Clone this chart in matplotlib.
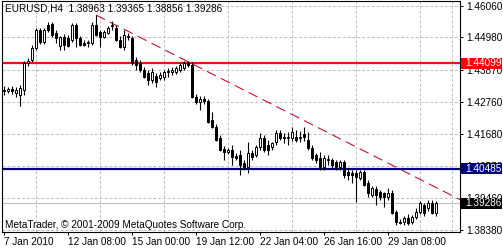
"""
plot.py — EURUSD H4 candlestick chart in MetaTrader style
==========================================================
Candles, a falling trendline from the January high, a resistance and a
support level, plus the coloured price tags on the right axis.

Output:  out.png  (503 x 250 px)
"""

import matplotlib
matplotlib.use("Agg")

import matplotlib.pyplot as plt
import numpy as np
from matplotlib.patches import Rectangle
from matplotlib.ticker import FormatStrFormatter

# ---------------------------------------------------------------------------
# Data (one value per H4 bar)
# ---------------------------------------------------------------------------
SYMBOL = "EURUSD,H4"

opens = [
    1.4318, 1.4315, 1.4321, 1.4308, 1.4301, 1.4318, 1.4410, 1.4421, 1.4462, 1.4524,
    1.4483, 1.4541, 1.4544, 1.4513, 1.4469, 1.4500, 1.4496, 1.4489, 1.4541, 1.4496,
    1.4479, 1.4479, 1.4479, 1.4541, 1.4517, 1.4500, 1.4513, 1.4537, 1.4531, 1.4489,
    1.4465, 1.4500, 1.4496, 1.4421, 1.4410, 1.4386, 1.4376, 1.4352, 1.4366, 1.4359,
    1.4362, 1.4380, 1.4380, 1.4380, 1.4386, 1.4393, 1.4410, 1.4404, 1.4294, 1.4277,
    1.4287, 1.4280, 1.4215, 1.4191, 1.4153, 1.4116, 1.4105, 1.4112, 1.4092, 1.4095,
    1.4068, 1.4054, 1.4102, 1.4095, 1.4122, 1.4153, 1.4129, 1.4122, 1.4140, 1.4171,
    1.4157, 1.4153, 1.4153, 1.4157, 1.4153, 1.4167, 1.4146, 1.4119, 1.4095, 1.4085,
    1.4054, 1.4078, 1.4078, 1.4071, 1.4054, 1.4071, 1.4037, 1.4033, 1.4033, 1.4016,
    1.4037, 1.3999, 1.3958, 1.3979, 1.3968, 1.3965, 1.3951, 1.3965, 1.3899, 1.3865,
    1.3865, 1.3879, 1.3865, 1.3882, 1.3899, 1.3923, 1.3913, 1.3930, 1.38963,
]
highs = [
    1.4332, 1.4328, 1.4332, 1.4328, 1.4335, 1.4417, 1.4428, 1.4472, 1.4531, 1.4531,
    1.4531, 1.4551, 1.4551, 1.4524, 1.4503, 1.4510, 1.4507, 1.4548, 1.4548, 1.4503,
    1.4489, 1.4489, 1.4551, 1.4575, 1.4524, 1.4524, 1.4537, 1.4555, 1.4541, 1.4503,
    1.4524, 1.4513, 1.4503, 1.4431, 1.4421, 1.4397, 1.4386, 1.4393, 1.4376, 1.4380,
    1.4386, 1.4393, 1.4397, 1.4400, 1.4410, 1.4417, 1.4417, 1.4414, 1.4304, 1.4297,
    1.4297, 1.4287, 1.4242, 1.4201, 1.4164, 1.4126, 1.4119, 1.4129, 1.4102, 1.4112,
    1.4078, 1.4140, 1.4112, 1.4129, 1.4171, 1.4164, 1.4146, 1.4140, 1.4181, 1.4181,
    1.4171, 1.4174, 1.4191, 1.4181, 1.4178, 1.4191, 1.4174, 1.4129, 1.4102, 1.4105,
    1.4095, 1.4095, 1.4085, 1.4078, 1.4078, 1.4078, 1.4050, 1.4043, 1.4043, 1.4043,
    1.4043, 1.4009, 1.3989, 1.3989, 1.3975, 1.3968, 1.3982, 1.3975, 1.3906, 1.3875,
    1.3886, 1.3893, 1.3889, 1.3913, 1.3937, 1.3930, 1.3941, 1.3941, 1.39365,
]
lows = [
    1.4301, 1.4308, 1.4304, 1.4294, 1.4263, 1.4301, 1.4400, 1.4414, 1.4455, 1.4476,
    1.4476, 1.4517, 1.4500, 1.4479, 1.4455, 1.4455, 1.4465, 1.4483, 1.4465, 1.4469,
    1.4469, 1.4465, 1.4472, 1.4503, 1.4465, 1.4496, 1.4510, 1.4524, 1.4486, 1.4462,
    1.4455, 1.4489, 1.4404, 1.4386, 1.4380, 1.4359, 1.4335, 1.4342, 1.4328, 1.4352,
    1.4352, 1.4362, 1.4369, 1.4373, 1.4380, 1.4386, 1.4397, 1.4290, 1.4270, 1.4249,
    1.4270, 1.4205, 1.4188, 1.4143, 1.4109, 1.4078, 1.4098, 1.4061, 1.4078, 1.4026,
    1.4043, 1.4033, 1.4078, 1.4088, 1.4112, 1.4105, 1.4095, 1.4112, 1.4129, 1.4146,
    1.4136, 1.4129, 1.4143, 1.4140, 1.4140, 1.4143, 1.4112, 1.4078, 1.4068, 1.4043,
    1.4043, 1.4061, 1.4050, 1.4043, 1.4043, 1.4016, 1.4009, 1.3999, 1.3934, 1.4009,
    1.3989, 1.3951, 1.3951, 1.3923, 1.3941, 1.3917, 1.3941, 1.3893, 1.3855, 1.3858,
    1.3855, 1.3855, 1.3858, 1.3875, 1.3893, 1.3886, 1.3903, 1.3893, 1.38856,
]
closes = [
    1.4315, 1.4321, 1.4315, 1.4318, 1.4325, 1.4410, 1.4417, 1.4462, 1.4524, 1.4483,
    1.4524, 1.4524, 1.4507, 1.4496, 1.4500, 1.4472, 1.4469, 1.4541, 1.4496, 1.4472,
    1.4472, 1.4483, 1.4541, 1.4507, 1.4500, 1.4517, 1.4531, 1.4541, 1.4489, 1.4465,
    1.4507, 1.4503, 1.4410, 1.4404, 1.4386, 1.4362, 1.4352, 1.4380, 1.4345, 1.4369,
    1.4380, 1.4383, 1.4386, 1.4393, 1.4404, 1.4410, 1.4404, 1.4294, 1.4277, 1.4287,
    1.4280, 1.4208, 1.4191, 1.4146, 1.4112, 1.4105, 1.4112, 1.4088, 1.4085, 1.4061,
    1.4054, 1.4102, 1.4088, 1.4122, 1.4153, 1.4112, 1.4112, 1.4136, 1.4171, 1.4153,
    1.4153, 1.4157, 1.4174, 1.4146, 1.4157, 1.4157, 1.4119, 1.4085, 1.4078, 1.4054,
    1.4085, 1.4081, 1.4061, 1.4054, 1.4071, 1.4026, 1.4026, 1.4026, 1.4019, 1.4037,
    1.3992, 1.3965, 1.3982, 1.3958, 1.3951, 1.3951, 1.3965, 1.3896, 1.3865, 1.3862,
    1.3879, 1.3862, 1.3882, 1.3899, 1.3930, 1.3896, 1.3930, 1.3896, 1.39286,
]

date_labels = ["7 Jan 2010", "12 Jan 08:00", "15 Jan 00:00", "19 Jan 12:00",
               "22 Jan 04:00", "26 Jan 16:00", "29 Jan 08:00"]
date_label_bars = [0, 16, 32, 48, 64, 80, 96]

price_ticks = [1.46060, 1.44980, 1.43870, 1.42760, 1.41680, 1.40570, 1.39460, 1.38380]

resistance = 1.44099
support = 1.40485
trend_bars = [23, 116]
trend_prices = [1.4575, 1.3928]

COPYRIGHT = "MetaTrader, \u00a9 2001-2009 MetaQuotes Software Corp."

# ---------------------------------------------------------------------------
# Styling
# ---------------------------------------------------------------------------
FONT = "Liberation Sans"
FS = 7.2
GRID_COLOR = "#c0c0c0"


def price_tag(ax, price, face):
    """Coloured box with the price in white, sitting on the right axis."""
    ax.add_patch(Rectangle((1.002, price - 0.0019), 0.09, 0.0038,
                           transform=ax.get_yaxis_transform(), fc=face, ec="none",
                           clip_on=False, zorder=5))
    ax.text(1.012, price, f"{price:.5f}", transform=ax.get_yaxis_transform(),
            ha="left", va="center", color="white", fontsize=FS, zorder=6,
            clip_on=False)


def build_chart(out_path="out.png"):
    plt.rcParams["font.family"] = [FONT, "DejaVu Sans"]

    fig = plt.figure(figsize=(5.03, 2.5), dpi=100)
    ax = fig.add_axes([2 / 503, 18 / 250, 458 / 503, 231 / 250])

    o = np.array(opens)
    h = np.array(highs)
    l = np.array(lows)
    c = np.array(closes)
    x = np.arange(len(o))
    up = c >= o

    # ── Grid + levels ─────────────────────────────────────────────────────
    ax.set_xticks(np.arange(8, 114, 8), minor=True)
    ax.grid(which="minor", axis="x", color=GRID_COLOR, lw=0.7, dashes=(3, 2))
    ax.grid(which="major", axis="y", color=GRID_COLOR, lw=0.7, dashes=(3, 2))
    ax.set_axisbelow(True)

    ax.axhline(closes[-1], color=GRID_COLOR, lw=0.8, zorder=1)
    ax.axhline(resistance, color="#ee1111", lw=1.6, zorder=2)
    ax.axhline(support, color="#000080", lw=1.6, zorder=2)
    ax.plot(trend_bars, trend_prices, color="#c8102e", lw=0.8, dashes=(9, 5),
            zorder=2)

    # ── Candles ───────────────────────────────────────────────────────────
    ax.vlines(x, l, h, color="black", lw=0.8, zorder=3)
    ax.bar(x, c - o, bottom=o, width=0.62,
           color=np.where(up, "white", "black"), edgecolor="black",
           linewidth=0.7, zorder=4)

    # ── Axes ──────────────────────────────────────────────────────────────
    ax.set_xlim(-0.5, 114)
    ax.set_ylim(1.38308, 1.46232)

    ax.set_xticks(date_label_bars)
    ax.set_xticklabels(date_labels, ha="left")
    ax.yaxis.tick_right()
    ax.set_yticks(price_ticks)
    ax.yaxis.set_major_formatter(FormatStrFormatter("%.5f"))

    ax.tick_params(axis="both", which="major", direction="out", length=2.2,
                   width=0.7, labelsize=FS, colors="black")
    ax.tick_params(axis="x", which="major", pad=1.2)
    ax.tick_params(axis="y", which="major", pad=2.0)
    ax.tick_params(which="minor", length=0)
    for sp in ax.spines.values():
        sp.set_color("black")
        sp.set_linewidth(0.8)

    # ── Texts ─────────────────────────────────────────────────────────────
    header = (f"{SYMBOL}  {opens[-1]:.5f} {highs[-1]:.5f} "
              f"{lows[-1]:.5f} {closes[-1]:.5f}")
    ax.text(0.007, 0.968, header, transform=ax.transAxes, ha="left",
            va="center", fontsize=FS, zorder=6)
    ax.text(0.007, 0.032, COPYRIGHT, transform=ax.transAxes, ha="left",
            va="center", fontsize=FS, zorder=6)

    price_tag(ax, resistance, "#ff0000")
    price_tag(ax, support, "#000080")
    price_tag(ax, closes[-1], "#000000")

    fig.savefig(out_path, dpi=100, facecolor="white")
    plt.close(fig)


if __name__ == "__main__":
    build_chart()
